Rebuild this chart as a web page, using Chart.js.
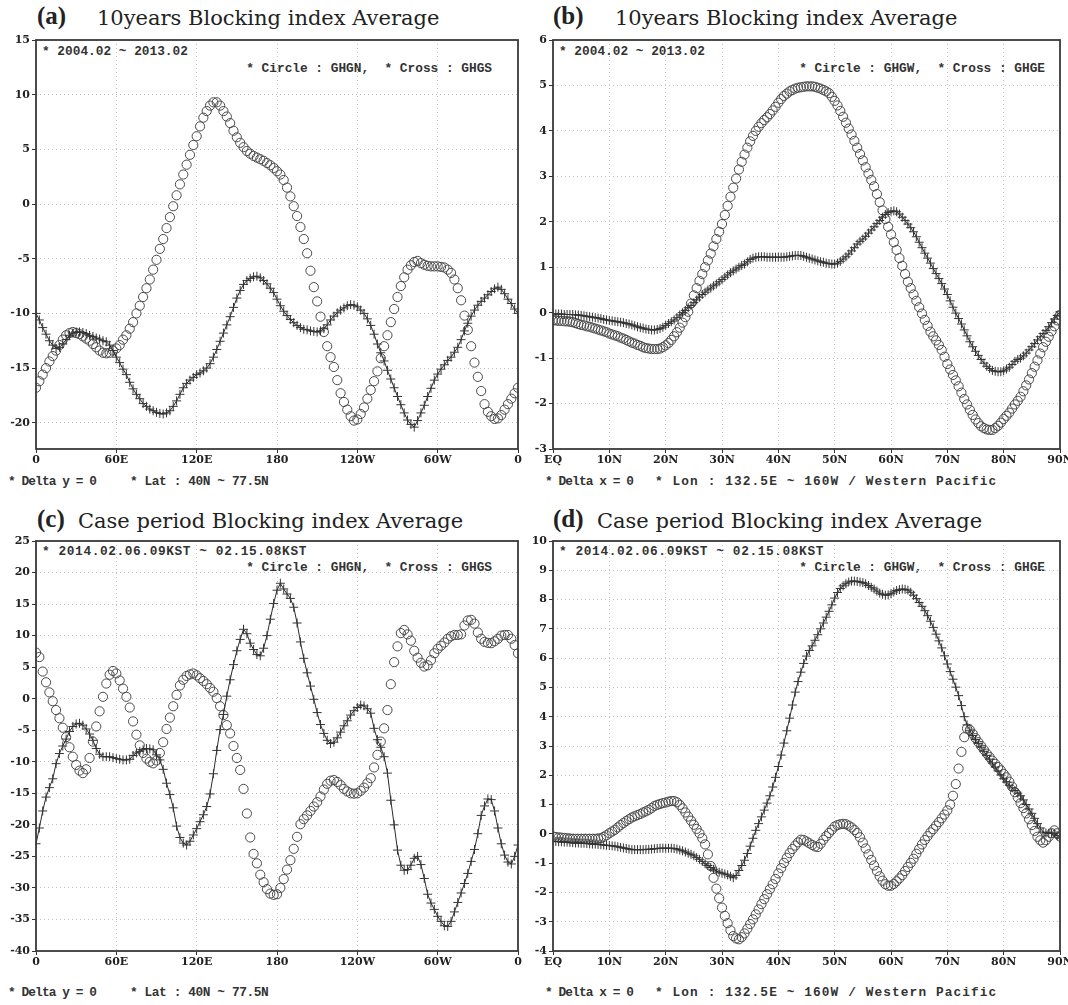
<!DOCTYPE html>
<html lang="en">
<head>
<meta charset="UTF-8">
<title>Blocking index Average</title>
<script src="https://cdn.jsdelivr.net/npm/chart.js"></script>
<style>
  body { margin:0; background:#fff; width:1068px; height:1005px; position:relative; overflow:hidden; }
  .t { position:absolute; white-space:pre; color:#222; }
  .tag { font: bold 25px "Liberation Serif", serif; line-height:25px; }
  .ttl { font: 21px "DejaVu Serif", serif; line-height:22px; }
  .note { font: bold 12.8px "Liberation Mono", monospace; line-height:13px; color:#333; }
  .wide { letter-spacing:0.6px; }
  .wider { letter-spacing:1.1px; }
  .tight { letter-spacing:-0.9px; }
  .snug { letter-spacing:-0.4px; }
</style>
</head>
<body>
  <!-- panel (a) -->
  <div class="t tag" style="left:37px;top:3px">(a)</div>
  <div class="t ttl" style="left:97px;top:7px">10years Blocking index Average</div>
  <div class="t note" style="left:42px;top:45px">* 2004.02 ~ 2013.02</div>
  <div class="t note" style="right:576px;top:62px">* Circle : GHGN,  * Cross : GHGS</div>
  <div class="t note tight" style="left:8px;top:475px">* Delta y = 0</div>
  <div class="t note snug" style="left:130px;top:475px">* Lat : 40N ~ 77.5N</div>

  <!-- panel (b) -->
  <div class="t tag" style="left:553px;top:3px">(b)</div>
  <div class="t ttl" style="left:615px;top:7px">10years Blocking index Average</div>
  <div class="t note" style="left:559px;top:45px">* 2004.02 ~ 2013.02</div>
  <div class="t note" style="right:23px;top:62px">* Circle : GHGW,  * Cross : GHGE</div>
  <div class="t note tight" style="left:545px;top:475px">* Delta x = 0</div>
  <div class="t note wider" style="left:655px;top:475px">* Lon : 132.5E ~ 160W / Western Pacific</div>

  <!-- panel (c) -->
  <div class="t tag" style="left:37px;top:506px">(c)</div>
  <div class="t ttl" style="left:78px;top:510px">Case period Blocking index Average</div>
  <div class="t note wide" style="left:42px;top:545px">* 2014.02.06.09KST ~ 02.15.08KST</div>
  <div class="t note" style="right:576px;top:561px">* Circle : GHGN,  * Cross : GHGS</div>
  <div class="t note tight" style="left:8px;top:986px">* Delta y = 0</div>
  <div class="t note snug" style="left:130px;top:986px">* Lat : 40N ~ 77.5N</div>

  <!-- panel (d) -->
  <div class="t tag" style="left:553px;top:506px">(d)</div>
  <div class="t ttl" style="left:597px;top:510px">Case period Blocking index Average</div>
  <div class="t note wide" style="left:559px;top:545px">* 2014.02.06.09KST ~ 02.15.08KST</div>
  <div class="t note" style="right:23px;top:561px">* Circle : GHGW,  * Cross : GHGE</div>
  <div class="t note tight" style="left:545px;top:986px">* Delta x = 0</div>
  <div class="t note wider" style="left:655px;top:986px">* Lon : 132.5E ~ 160W / Western Pacific</div>

<script>
// x axes: longitude every 2.5 deg (a, c), latitude every 0.5 deg (b, d)
const lonStep = 2.5;
const latStep = 0.5;
const lonTicks = [0, 60, 120, 180, 240, 300, 360];
const lonLabels = ['0', '60E', '120E', '180', '120W', '60W', '0'];
const latTicks = [0, 10, 20, 30, 40, 50, 60, 70, 80, 90];
const latLabels = ['EQ', '10N', '20N', '30N', '40N', '50N', '60N', '70N', '80N', '90N'];

const yTicksA = [15, 10, 5, 0, -5, -10, -15, -20];
const yTicksB = [6, 5, 4, 3, 2, 1, 0, -1, -2, -3];
const yTicksC = [25, 20, 15, 10, 5, 0, -5, -10, -15, -20, -25, -30, -35, -40];
const yTicksD = [10, 9, 8, 7, 6, 5, 4, 3, 2, 1, 0, -1, -2, -3, -4];

// (a) 10 years, GHGN (circle) / GHGS (cross)
const circA = [-16.8,-16.2,-15.6,-15.0,-14.4,-13.9,-13.4,-12.9,-12.4,-12.0,
  -11.8,-11.7,-11.8,-11.9,-12.1,-12.3,-12.5,-12.8,-13.1,-13.4,
  -13.6,-13.65,-13.6,-13.4,-13.2,-12.9,-12.4,-12.0,-11.4,-10.8,
  -10.0,-9.3,-8.5,-7.7,-6.9,-6.0,-5.1,-4.1,-3.2,-2.2,
  -1.2,-0.2,0.8,1.8,2.7,3.6,4.5,5.4,6.2,7.1,
  7.9,8.5,9.0,9.3,9.3,9.0,8.5,8.0,7.4,6.7,
  6.1,5.6,5.2,4.85,4.6,4.4,4.25,4.1,3.95,3.75,
  3.55,3.3,3.0,2.7,2.2,1.5,0.7,-0.2,-1.1,-2.1,
  -3.2,-4.5,-6.1,-7.6,-8.9,-10.3,-11.7,-13.0,-14.0,-14.9,
  -16.1,-17.3,-18.1,-18.8,-19.4,-19.8,-19.7,-19.2,-18.6,-17.8,
  -17.0,-16.2,-15.3,-14.1,-13.0,-12.0,-10.8,-9.6,-8.5,-7.5,
  -6.7,-6.0,-5.6,-5.3,-5.2,-5.4,-5.55,-5.65,-5.7,-5.7,
  -5.7,-5.75,-5.8,-6.0,-6.3,-6.9,-7.7,-8.8,-10.2,-11.5,
  -13.0,-14.5,-15.8,-17.1,-18.3,-19.0,-19.4,-19.65,-19.6,-19.3,
  -18.8,-18.3,-17.8,-17.3,-16.8];
const crossA = [-10.0,-10.6,-11.3,-11.9,-12.5,-12.9,-13.2,-13.1,-12.8,-12.4,
  -12.0,-11.8,-11.7,-11.7,-11.75,-11.85,-12.0,-12.1,-12.25,-12.35,
  -12.5,-12.6,-12.9,-13.4,-14.0,-14.5,-15.1,-15.6,-16.3,-16.9,
  -17.4,-17.8,-18.25,-18.5,-18.75,-18.9,-19.05,-19.15,-19.2,-19.1,
  -18.9,-18.5,-18.0,-17.4,-16.8,-16.4,-16.1,-15.85,-15.6,-15.45,
  -15.25,-15.0,-14.6,-14.0,-13.3,-12.55,-11.8,-11.05,-10.3,-9.45,
  -8.6,-7.9,-7.35,-7.0,-6.8,-6.65,-6.6,-6.75,-7.0,-7.3,
  -7.7,-8.1,-8.7,-9.3,-9.8,-10.2,-10.55,-10.85,-11.1,-11.3,
  -11.45,-11.5,-11.6,-11.65,-11.7,-11.6,-11.4,-11.05,-10.6,-10.25,
  -9.95,-9.7,-9.5,-9.3,-9.2,-9.25,-9.4,-9.7,-10.0,-10.5,
  -11.1,-11.9,-12.8,-13.6,-14.35,-15.2,-16.0,-16.8,-17.6,-18.35,
  -19.1,-19.75,-20.15,-20.4,-19.8,-19.1,-18.4,-17.6,-16.85,-16.1,
  -15.55,-15.1,-14.7,-14.3,-14.0,-13.55,-13.1,-12.4,-11.6,-10.9,
  -10.25,-9.7,-9.25,-8.9,-8.6,-8.3,-8.0,-7.75,-7.6,-7.8,
  -8.2,-8.7,-9.1,-9.6,-10.0];

// (b) 10 years, GHGW (circle) / GHGE (cross)
const circB = [-0.17,-0.17,-0.18,-0.18,-0.19,-0.19,-0.2,-0.21,-0.23,-0.25,
  -0.27,-0.28,-0.3,-0.31,-0.33,-0.35,-0.37,-0.39,-0.41,-0.43,
  -0.46,-0.48,-0.5,-0.52,-0.55,-0.57,-0.6,-0.63,-0.66,-0.68,
  -0.71,-0.73,-0.76,-0.78,-0.79,-0.8,-0.8,-0.8,-0.79,-0.76,
  -0.72,-0.67,-0.6,-0.52,-0.43,-0.33,-0.22,-0.1,0.02,0.2,
  0.38,0.54,0.7,0.85,1.0,1.15,1.3,1.46,1.62,1.78,
  1.95,2.15,2.35,2.55,2.75,2.95,3.15,3.32,3.48,3.63,
  3.77,3.89,4.0,4.09,4.17,4.24,4.3,4.37,4.45,4.53,
  4.62,4.7,4.77,4.82,4.87,4.9,4.93,4.95,4.96,4.97,
  4.98,4.98,4.98,4.97,4.95,4.93,4.9,4.87,4.83,4.75,
  4.66,4.56,4.44,4.31,4.18,4.05,3.92,3.78,3.63,3.49,
  3.35,3.2,3.06,2.92,2.78,2.61,2.43,2.25,2.06,1.89,
  1.72,1.55,1.38,1.2,1.03,0.85,0.68,0.54,0.4,0.26,
  0.12,-0.02,-0.16,-0.29,-0.42,-0.52,-0.61,-0.71,-0.82,-0.97,
  -1.13,-1.25,-1.37,-1.49,-1.62,-1.76,-1.9,-2.02,-2.14,-2.25,
  -2.35,-2.43,-2.5,-2.54,-2.57,-2.58,-2.58,-2.54,-2.49,-2.42,
  -2.34,-2.27,-2.2,-2.11,-2.02,-1.94,-1.85,-1.73,-1.6,-1.47,
  -1.33,-1.19,-1.05,-0.9,-0.76,-0.64,-0.53,-0.41,-0.3,-0.17,
  -0.05];
const crossB = [-0.03,-0.03,-0.03,-0.03,-0.04,-0.04,-0.04,-0.04,-0.05,-0.05,
  -0.06,-0.07,-0.08,-0.09,-0.1,-0.11,-0.12,-0.13,-0.15,-0.16,
  -0.17,-0.18,-0.19,-0.2,-0.21,-0.22,-0.24,-0.25,-0.27,-0.29,
  -0.31,-0.33,-0.34,-0.36,-0.37,-0.38,-0.38,-0.37,-0.35,-0.32,
  -0.28,-0.24,-0.2,-0.16,-0.11,-0.05,0.0,0.05,0.11,0.16,
  0.22,0.28,0.34,0.4,0.45,0.5,0.54,0.59,0.63,0.68,
  0.73,0.78,0.83,0.88,0.92,0.96,1.0,1.04,1.07,1.12,
  1.17,1.2,1.22,1.23,1.23,1.23,1.22,1.22,1.22,1.22,
  1.22,1.22,1.22,1.23,1.24,1.25,1.26,1.26,1.26,1.24,
  1.22,1.2,1.18,1.16,1.14,1.12,1.11,1.09,1.08,1.07,
  1.07,1.09,1.13,1.18,1.23,1.29,1.36,1.43,1.51,1.57,
  1.62,1.68,1.75,1.82,1.89,1.96,2.03,2.1,2.16,2.2,
  2.23,2.24,2.22,2.17,2.1,2.03,1.95,1.87,1.78,1.67,
  1.55,1.43,1.31,1.2,1.09,0.97,0.86,0.75,0.64,0.52,
  0.4,0.26,0.12,-0.01,-0.13,-0.25,-0.38,-0.51,-0.64,-0.75,
  -0.85,-0.94,-1.03,-1.11,-1.18,-1.23,-1.27,-1.29,-1.3,-1.3,
  -1.28,-1.24,-1.2,-1.14,-1.07,-1.03,-1.0,-0.95,-0.89,-0.82,
  -0.75,-0.68,-0.6,-0.53,-0.46,-0.39,-0.31,-0.22,-0.14,-0.06,
  0.02];

// (c) case period, GHGN (circle) / GHGS (cross)
const circC = [7.3,6.6,4.3,2.6,1.0,-0.4,-1.8,-3.1,-4.6,-6.1,
  -7.7,-9.2,-10.5,-11.4,-11.8,-11.2,-9.4,-6.8,-4.4,-2.0,
  0.3,2.4,3.8,4.4,4.0,2.9,1.6,0.3,-1.4,-3.6,
  -5.7,-7.4,-8.6,-9.5,-10.0,-10.25,-9.8,-8.6,-6.9,-4.8,
  -3.0,-1.2,0.6,2.1,3.0,3.6,3.85,4.0,3.7,3.25,
  2.8,2.3,1.7,1.1,0.1,-1.2,-2.6,-4.2,-5.5,-7.5,
  -9.4,-11.3,-14.3,-18.2,-22.0,-24.6,-26.1,-27.9,-29.1,-30.2,
  -30.9,-31.1,-31.0,-30.0,-28.6,-27.1,-25.6,-23.8,-21.9,-19.9,
  -19.1,-18.5,-17.8,-17.1,-16.4,-15.5,-14.4,-13.5,-13.0,-12.9,
  -13.2,-13.7,-14.3,-14.7,-15.0,-15.05,-15.0,-14.6,-14.1,-13.4,
  -12.6,-10.9,-8.9,-6.8,-4.7,-1.8,2.3,5.8,8.3,10.4,
  10.9,10.2,9.2,7.6,6.5,5.7,5.1,5.3,6.1,7.2,
  7.9,8.4,8.9,9.5,9.9,10.1,10.1,10.2,11.6,12.4,
  12.5,11.9,10.5,9.5,9.0,8.85,8.8,9.1,9.5,10.0,
  10.1,10.1,9.5,8.5,7.2];
const crossC = [-23.0,-20.5,-17.8,-15.6,-14.1,-12.7,-10.3,-8.7,-7.5,-6.4,
  -5.2,-4.4,-4.0,-3.9,-4.2,-4.8,-5.6,-6.6,-7.9,-8.8,
  -9.2,-9.2,-9.2,-9.35,-9.5,-9.6,-9.7,-9.7,-9.6,-9.0,
  -8.6,-8.35,-8.1,-7.9,-7.95,-8.1,-8.9,-9.7,-11.2,-13.4,
  -15.2,-17.3,-20.2,-22.0,-22.9,-23.2,-22.6,-21.6,-20.6,-19.5,
  -18.4,-17.1,-15.1,-11.9,-8.2,-4.9,-2.5,0.4,3.0,5.4,
  7.6,9.4,11.0,10.3,8.8,7.8,7.0,6.8,8.0,10.0,
  12.6,15.1,17.2,18.3,17.4,16.6,15.9,14.5,12.0,9.0,
  6.4,4.1,2.0,-0.1,-2.2,-4.1,-5.5,-6.6,-7.1,-6.9,
  -6.2,-5.3,-4.3,-3.5,-2.6,-1.9,-1.4,-1.0,-1.15,-1.6,
  -2.3,-4.7,-6.5,-7.7,-9.2,-11.8,-16.1,-20.0,-24.0,-26.4,
  -27.2,-27.1,-26.4,-25.3,-25.0,-26.3,-28.5,-31.0,-32.4,-33.4,
  -34.5,-35.3,-36.0,-36.1,-35.3,-33.8,-32.3,-30.8,-29.3,-27.7,
  -25.8,-23.9,-21.4,-18.5,-17.0,-15.9,-16.0,-17.8,-20.5,-23.0,
  -24.8,-25.9,-26.2,-25.0,-23.2];

// (d) case period, GHGW (circle) / GHGE (cross)
const circD = [-0.09,-0.11,-0.12,-0.13,-0.14,-0.15,-0.16,-0.17,-0.17,-0.17,
  -0.17,-0.17,-0.17,-0.17,-0.17,-0.17,-0.16,-0.15,-0.1,-0.05,
  0.02,0.08,0.14,0.22,0.3,0.37,0.44,0.5,0.56,0.6,
  0.64,0.68,0.73,0.77,0.82,0.88,0.95,0.99,1.02,1.05,
  1.07,1.1,1.12,1.12,1.08,0.99,0.87,0.73,0.59,0.45,
  0.31,0.17,0.02,-0.15,-0.36,-0.7,-1.1,-1.5,-1.87,-2.2,
  -2.52,-2.8,-3.05,-3.29,-3.49,-3.57,-3.6,-3.53,-3.4,-3.24,
  -3.08,-2.92,-2.75,-2.58,-2.4,-2.23,-2.06,-1.89,-1.72,-1.54,
  -1.35,-1.17,-0.99,-0.82,-0.66,-0.52,-0.4,-0.29,-0.2,-0.21,
  -0.26,-0.32,-0.38,-0.43,-0.45,-0.34,-0.2,-0.08,0.03,0.14,
  0.25,0.3,0.33,0.34,0.33,0.28,0.22,0.13,0.03,-0.12,
  -0.3,-0.5,-0.7,-0.89,-1.08,-1.27,-1.45,-1.6,-1.72,-1.77,
  -1.77,-1.71,-1.62,-1.52,-1.41,-1.27,-1.13,-0.99,-0.85,-0.68,
  -0.52,-0.36,-0.21,-0.08,0.05,0.16,0.28,0.4,0.53,0.66,
  0.8,1.0,1.3,1.7,2.23,2.8,3.3,3.6,3.55,3.42,
  3.27,3.13,3.0,2.87,2.74,2.62,2.5,2.39,2.28,2.17,
  2.05,1.93,1.78,1.61,1.42,1.24,1.05,0.88,0.7,0.5,
  0.3,0.1,-0.1,-0.22,-0.3,-0.22,-0.1,0.02,0.12,0.02,
  -0.09];
const crossD = [-0.26,-0.26,-0.27,-0.27,-0.28,-0.28,-0.29,-0.3,-0.31,-0.31,
  -0.32,-0.32,-0.33,-0.34,-0.35,-0.35,-0.36,-0.37,-0.38,-0.39,
  -0.4,-0.41,-0.42,-0.44,-0.46,-0.48,-0.5,-0.52,-0.54,-0.54,
  -0.54,-0.54,-0.54,-0.53,-0.53,-0.52,-0.51,-0.5,-0.49,-0.49,
  -0.49,-0.49,-0.49,-0.5,-0.52,-0.55,-0.58,-0.62,-0.66,-0.7,
  -0.75,-0.81,-0.87,-0.94,-1.02,-1.08,-1.15,-1.21,-1.27,-1.31,
  -1.34,-1.37,-1.4,-1.45,-1.5,-1.42,-1.25,-1.08,-0.9,-0.67,
  -0.42,-0.15,0.12,0.35,0.58,0.81,1.05,1.3,1.6,1.93,
  2.3,2.69,3.1,3.52,3.95,4.4,4.84,5.2,5.52,5.82,
  6.07,6.26,6.42,6.61,6.8,7.0,7.2,7.4,7.6,7.82,
  8.05,8.24,8.38,8.47,8.54,8.6,8.63,8.63,8.62,8.6,
  8.58,8.54,8.48,8.42,8.36,8.29,8.22,8.18,8.15,8.16,
  8.2,8.26,8.31,8.34,8.36,8.35,8.32,8.25,8.15,8.03,
  7.9,7.77,7.62,7.45,7.26,7.05,6.82,6.59,6.35,6.08,
  5.8,5.54,5.28,5.01,4.72,4.38,4.0,3.72,3.52,3.36,
  3.22,3.09,2.96,2.82,2.68,2.55,2.42,2.28,2.15,2.01,
  1.88,1.77,1.66,1.57,1.48,1.39,1.3,1.16,1.0,0.85,
  0.7,0.53,0.35,0.2,0.06,0.03,0.02,0.02,0.02,-0.06,
  -0.15];

function pts(vals, step) {
  return vals.map((v, i) => ({ x: i * step, y: v }));
}

// frame round the plot area, GrADS style
const boxPlugin = {
  id: 'box',
  afterDraw(chart) {
    const a = chart.chartArea, ctx = chart.ctx;
    ctx.save();
    ctx.strokeStyle = '#3a3a3a';
    ctx.lineWidth = 1.8;
    ctx.strokeRect(a.left, a.top, a.right - a.left, a.bottom - a.top);
    ctx.restore();
  }
};

const tickFont = { family: 'DejaVu Serif', size: 11, weight: 'bold' };

function panel(p) {
  const w = p.pw + 56, h = p.ph + 36;
  const c = document.createElement('canvas');
  c.width = w; c.height = h;
  c.style.cssText = 'position:absolute;left:' + (p.px - 40) + 'px;top:' + (p.py - 10) + 'px;width:' + w + 'px;height:' + h + 'px';
  document.body.appendChild(c);

  new Chart(c, {
    type: 'line',
    data: {
      datasets: [{
        data: pts(p.cross, p.step),
        showLine: true,
        borderColor: '#2b2b2b',
        borderWidth: 1,
        pointStyle: 'cross',
        pointRadius: 4.5,
        pointBorderColor: '#333',
        pointBorderWidth: 1
      }, {
        data: pts(p.circ, p.step),
        showLine: false,
        pointStyle: 'circle',
        pointRadius: 4.6,
        pointBorderColor: '#4a4a4a',
        pointBackgroundColor: 'rgba(255,255,255,0)',
        pointBorderWidth: 1
      }]
    },
    options: {
      responsive: false,
      animation: false,
      events: [],
      layout: { padding: { left: 0, right: 16, top: 10, bottom: 0 } },
      plugins: { legend: { display: false }, tooltip: { enabled: false } },
      scales: {
        x: {
          type: 'linear',
          min: p.xTicks[0],
          max: p.xTicks[p.xTicks.length - 1],
          afterBuildTicks: s => { s.ticks = p.xTicks.map(v => ({ value: v })); },
          afterFit: s => { s.height = 26; },
          ticks: { autoSkip: false, maxRotation: 0, padding: 1, color: '#222', font: tickFont,
                   callback: (v, i) => p.xLabels[i] },
          grid: { color: '#c4c4c4', tickColor: '#333', tickLength: 4, tickBorderDash: [] },
          border: { display: false, dash: [1, 3] }
        },
        y: {
          min: p.ymin,
          max: p.ymax,
          afterBuildTicks: s => { s.ticks = p.yTicks.map(v => ({ value: v })); },
          afterFit: s => { s.width = 40; },
          ticks: { padding: 2, color: '#222', font: tickFont, callback: v => String(v) },
          grid: { color: '#c4c4c4', tickColor: '#333', tickLength: 4, tickBorderDash: [] },
          border: { display: false, dash: [1, 3] }
        }
      }
    },
    plugins: [boxPlugin]
  });
}

panel({ px: 36, py: 40, pw: 482, ph: 409, step: lonStep, xTicks: lonTicks, xLabels: lonLabels,
        yTicks: yTicksA, ymin: -22.4, ymax: 15, circ: circA, cross: crossA });
panel({ px: 553, py: 40, pw: 507, ph: 409, step: latStep, xTicks: latTicks, xLabels: latLabels,
        yTicks: yTicksB, ymin: -3, ymax: 6, circ: circB, cross: crossB });
panel({ px: 36, py: 541, pw: 482, ph: 410, step: lonStep, xTicks: lonTicks, xLabels: lonLabels,
        yTicks: yTicksC, ymin: -40, ymax: 25, circ: circC, cross: crossC });
panel({ px: 553, py: 541, pw: 507, ph: 410, step: latStep, xTicks: latTicks, xLabels: latLabels,
        yTicks: yTicksD, ymin: -4, ymax: 10, circ: circD, cross: crossD });
</script>
</body>
</html>
